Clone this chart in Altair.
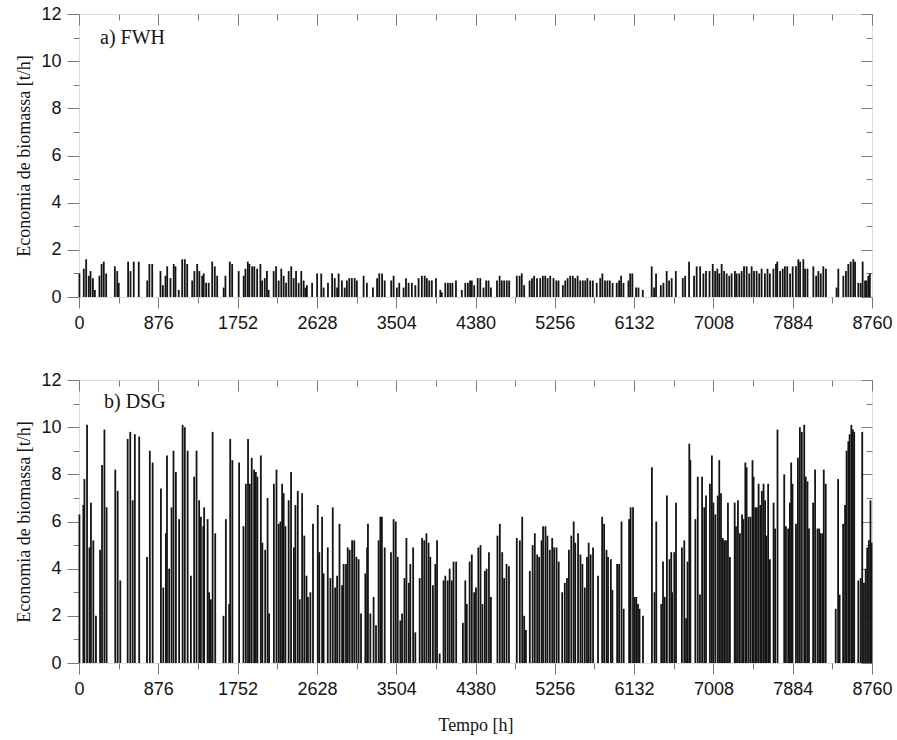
import altair as alt
import pandas as pd

# ---- axis ticks (hours / t/h) ----
x_major = [0, 876, 1752, 2628, 3504, 4380, 5256, 6132, 7008, 7884, 8760]
x_minor = [438, 1314, 2190, 3066, 3942, 4818, 5694, 6570, 7446, 8322]
y_major = [0, 2, 4, 6, 8, 10, 12]
y_minor = [1, 3, 5, 7, 9, 11]

# ---- daily peaks: (day of year, t/h) ----
fwh_picos = [
    (0.2, 1.0), (2.2, 1.2), (3.3, 1.6), (4.5, 0.9), (5.3, 1.1), (6.4, 0.8), (7.3, 0.3),
    (9.4, 0.9), (10.4, 1.4), (11.4, 1.5), (12.5, 1.0),
    (16.5, 1.3), (17.6, 1.1), (18.3, 0.6),
    (22.6, 1.5), (23.7, 1.1), (25.2, 1.5), (27.5, 1.5),
    (31.4, 0.7), (32.4, 1.4), (33.7, 1.4),
    (37.5, 1.1), (38.6, 0.5), (39.8, 0.9), (40.6, 1.3), (42.1, 0.8), (43.6, 1.4), (44.4, 1.3),
    (45.9, 0.3), (47.5, 1.6), (48.7, 1.6), (49.8, 1.4),
    (52.1, 0.7), (53.1, 1.1), (54.4, 1.4), (55.4, 1.1), (56.7, 0.9), (57.4, 1.0), (58.5, 0.6),
    (59.7, 0.6), (61.3, 1.5), (62.5, 1.3), (63.6, 0.9),
    (66.6, 0.4), (67.4, 0.9), (69.4, 1.5), (70.5, 1.4), (73.5, 1.1),
    (75.8, 0.9), (76.6, 1.2), (77.7, 1.5), (78.4, 1.4), (79.7, 1.3), (80.7, 1.3), (82.0, 1.2),
    (83.5, 1.4), (84.3, 0.7), (85.5, 0.8), (86.5, 1.1), (87.3, 0.3),
    (89.6, 1.1), (90.7, 1.3), (91.9, 0.7), (93.1, 1.2), (94.2, 0.9), (95.3, 0.6),
    (96.5, 1.1), (97.7, 1.3), (98.8, 0.8), (99.9, 1.1), (101.1, 0.6), (102.3, 1.1), (103.4, 0.7),
    (104.2, 0.4), (104.9, 0.5), (107.3, 0.6),
    (109.6, 1.0), (111.5, 1.0), (112.6, 0.4),
    (114.6, 0.6), (116.5, 1.0), (117.7, 0.8), (118.8, 0.4), (119.5, 1.0), (121.0, 0.7),
    (122.3, 0.4), (123.3, 0.7), (124.4, 0.8), (125.6, 0.8), (126.9, 0.8), (127.9, 0.7),
    (131.0, 0.9), (132.5, 0.6),
    (135.3, 0.4), (137.2, 0.8), (138.2, 1.0), (139.5, 1.0), (140.7, 0.7),
    (143.7, 0.7), (144.8, 0.9), (146.3, 0.4), (147.4, 0.6),
    (149.4, 0.4), (150.5, 0.8), (151.7, 0.6), (153.2, 0.6), (154.8, 0.5),
    (156.3, 0.8), (157.8, 0.9), (159.1, 0.9), (160.1, 0.8), (161.2, 0.7), (162.4, 0.7), (164.3, 0.8),
    (166.3, 0.3), (167.0, 0.2), (168.6, 0.6), (169.8, 0.6), (170.9, 0.6), (171.9, 0.6), (173.5, 0.7),
    (176.2, 0.3), (177.8, 0.6), (179.0, 0.6), (180.0, 0.7),
    (180.8, 0.7), (181.9, 0.5), (183.5, 0.8), (184.7, 0.8), (186.2, 0.4), (187.4, 0.7),
    (188.5, 0.7), (189.6, 0.4),
    (192.4, 0.7), (193.6, 0.9), (194.6, 0.7), (195.7, 0.7), (196.9, 0.7), (198.0, 0.7),
    (201.5, 0.9), (202.8, 0.9), (203.8, 1.0), (204.9, 0.5),
    (207.4, 0.7), (208.5, 0.8), (209.5, 0.9), (210.8, 0.8), (212.3, 0.8), (213.5, 0.9),
    (214.6, 0.9), (215.7, 0.8), (216.9, 0.9), (218.4, 0.8), (219.7, 0.7), (220.7, 0.7),
    (222.7, 0.5), (223.8, 0.7), (224.9, 0.8), (226.1, 0.9), (227.3, 0.9), (228.4, 0.8),
    (229.5, 0.9), (230.7, 0.7), (231.9, 0.7), (233.0, 0.7), (234.0, 0.8), (235.3, 0.7), (236.5, 0.7),
    (238.3, 0.6), (239.9, 0.8), (240.9, 1.0), (242.1, 0.7), (243.2, 0.7), (244.3, 0.7), (245.6, 0.6),
    (247.5, 0.6), (248.6, 0.7), (249.5, 0.9), (250.6, 0.6),
    (252.9, 0.7), (253.7, 1.0), (254.7, 1.0),
    (256.4, 0.4), (257.5, 0.4), (259.5, 0.3),
    (263.6, 1.3), (264.7, 0.4), (265.6, 1.0),
    (267.8, 0.5), (269.0, 0.6), (270.5, 1.1), (271.6, 0.7), (272.8, 0.8), (274.7, 1.1),
    (277.9, 0.8), (279.0, 0.9), (280.8, 1.5),
    (283.1, 0.9), (284.3, 1.3), (285.9, 1.3), (287.4, 1.0), (288.6, 1.1), (290.2, 1.1),
    (291.7, 1.4), (292.8, 1.1), (293.8, 1.2), (294.7, 1.0), (295.8, 1.4), (296.9, 1.1),
    (298.1, 1.0), (299.3, 0.9), (300.4, 1.0),
    (301.9, 1.1), (302.7, 1.0), (303.9, 1.0), (305.0, 1.1), (306.1, 1.3), (307.3, 1.3),
    (308.5, 1.0), (309.6, 1.3), (310.7, 1.1), (311.9, 1.1), (313.1, 1.0), (314.2, 1.2),
    (315.7, 1.0), (316.9, 1.2), (318.0, 1.0),
    (319.6, 1.2), (320.8, 1.4), (321.4, 1.5), (322.7, 1.1), (323.9, 1.2), (324.9, 1.3),
    (326.0, 1.3), (327.3, 1.0),
    (328.5, 1.3), (330.0, 1.3), (331.1, 1.6), (331.9, 1.5), (333.4, 1.6), (334.2, 1.2), (335.3, 1.2),
    (338.0, 1.3), (339.3, 0.9), (340.3, 1.1), (341.4, 1.0), (342.6, 1.3), (343.8, 1.2),
    (348.7, 0.4), (349.5, 1.2),
    (351.8, 0.9), (353.0, 1.1), (354.1, 1.4), (355.2, 1.5), (356.4, 1.6), (357.2, 1.5),
    (358.7, 0.6), (359.8, 0.6), (360.7, 1.5), (361.8, 0.7), (362.5, 0.7), (363.3, 0.9), (364.0, 1.0),
]

dsg_picos = [
    (0.2, 6.3), (2.0, 6.7), (2.5, 7.8), (3.7, 10.1), (4.8, 4.9), (5.5, 6.8), (6.6, 5.2), (7.8, 2.0),
    (9.7, 4.8), (10.6, 8.4), (11.7, 9.9), (12.7, 6.6),
    (16.7, 8.2), (17.8, 7.3), (19.0, 3.5),
    (22.4, 9.5), (23.6, 9.8), (24.7, 6.9), (25.7, 9.7), (27.7, 9.6),
    (31.3, 4.5), (32.6, 9.0), (33.9, 8.5),
    (37.7, 7.4), (38.8, 3.2), (40.0, 5.5), (40.5, 8.8), (41.5, 4.0), (42.6, 6.6), (43.5, 9.0), (44.6, 8.1),
    (46.1, 6.1), (47.7, 10.1), (48.7, 10.0), (50.0, 9.0),
    (51.5, 3.7), (53.0, 7.9), (54.1, 9.0), (55.3, 6.9), (56.1, 6.2), (57.2, 5.8), (57.6, 6.6),
    (59.2, 6.1), (59.9, 3.0), (60.7, 2.7), (61.5, 9.8), (62.7, 5.5),
    (66.5, 2.0), (67.6, 6.1), (69.1, 2.5), (69.6, 9.5), (70.6, 8.6), (73.7, 8.5),
    (75.7, 5.8), (76.8, 7.6), (77.8, 9.5), (78.6, 7.6), (79.5, 8.7), (80.6, 8.2), (81.4, 8.1),
    (82.1, 7.9), (83.7, 8.8), (84.4, 5.1), (85.7, 4.8), (86.8, 7.0), (87.5, 2.1),
    (89.7, 7.6), (90.9, 8.2), (91.9, 5.9), (92.7, 6.0), (93.5, 7.6), (94.2, 7.2), (95.0, 5.8),
    (96.5, 6.9), (97.6, 8.1), (98.9, 4.9), (99.6, 6.7), (100.7, 7.3), (101.6, 2.7), (102.7, 7.2),
    (103.7, 5.4), (104.7, 3.7), (105.4, 2.8), (106.5, 3.0), (107.7, 5.9),
    (109.9, 6.7), (110.6, 4.7), (111.9, 6.2), (112.6, 3.8),
    (114.5, 4.9), (115.7, 3.6), (116.8, 6.6), (117.9, 3.2), (118.8, 3.7), (119.9, 5.9),
    (121.1, 3.3), (121.8, 4.2), (122.9, 4.2),
    (123.7, 4.9), (124.6, 4.8), (125.7, 5.2), (126.7, 5.2), (127.7, 4.5), (128.7, 4.4), (129.8, 2.1),
    (131.8, 3.8), (132.6, 4.9), (133.0, 5.9), (134.1, 2.1),
    (135.6, 2.8), (136.7, 1.6), (137.9, 5.2), (138.7, 6.2), (139.4, 6.2), (140.7, 4.9),
    (143.6, 4.7), (144.8, 6.1), (145.8, 6.0), (146.7, 4.5), (147.9, 1.8), (148.7, 2.1),
    (149.8, 3.6), (150.7, 5.3), (151.8, 3.4), (152.5, 4.2), (153.8, 4.9), (154.8, 1.3),
    (156.8, 3.6), (157.9, 5.3), (158.9, 5.2), (159.9, 5.5), (160.9, 5.1), (161.7, 4.5),
    (162.9, 3.3), (164.0, 4.2), (164.8, 5.2), (166.0, 0.4),
    (167.8, 3.5), (168.6, 3.7), (169.7, 3.5), (170.6, 4.0), (171.6, 3.5), (172.4, 4.3), (173.6, 4.3),
    (176.7, 1.7), (177.8, 3.5), (178.5, 2.5), (179.8, 4.3),
    (180.8, 4.6), (181.9, 3.0), (182.7, 3.2), (183.8, 4.9), (184.8, 5.0), (185.7, 2.5),
    (186.8, 3.9), (187.6, 4.0), (188.7, 4.7), (189.6, 2.8),
    (192.6, 5.4), (193.7, 5.9), (194.8, 4.7), (195.7, 3.6), (196.8, 4.2), (197.9, 4.1),
    (201.5, 5.3), (202.9, 5.2), (204.0, 6.2), (204.9, 2.0), (205.7, 1.4),
    (207.5, 3.9), (208.8, 5.0), (209.8, 5.5), (210.9, 4.6), (211.8, 4.5), (212.9, 5.2),
    (213.6, 5.8), (214.7, 5.8), (215.6, 5.4), (216.7, 4.8), (217.8, 5.3), (218.7, 4.9),
    (219.8, 4.9), (220.8, 4.3),
    (222.4, 3.0), (223.6, 3.4), (224.6, 3.6), (225.5, 4.8), (226.6, 5.4), (227.7, 6.0),
    (228.4, 5.1), (229.7, 5.5), (230.8, 4.6), (231.7, 4.2), (232.8, 3.2), (233.8, 4.5),
    (234.6, 5.1), (235.5, 4.6), (236.6, 4.9),
    (238.9, 3.7), (240.8, 6.2), (241.7, 5.9), (242.8, 4.8), (243.5, 4.5), (244.8, 4.4), (245.5, 3.1),
    (247.7, 4.2), (248.6, 4.2), (249.7, 6.0), (250.7, 2.3),
    (253.2, 6.1), (253.9, 6.6), (255.0, 6.6), (255.8, 2.8),
    (256.5, 2.8), (257.3, 2.5), (258.0, 2.3), (259.6, 2.0),
    (263.7, 8.3), (264.9, 3.0), (265.7, 6.0),
    (268.0, 2.5), (268.8, 4.3), (269.6, 2.8), (270.6, 7.1), (271.8, 4.4), (272.6, 4.7),
    (273.0, 3.0), (274.0, 4.7), (274.8, 6.8),
    (277.5, 4.9), (278.6, 5.2), (279.4, 1.9), (280.1, 4.3), (280.9, 9.3), (281.4, 8.6),
    (283.7, 6.1), (284.8, 7.9), (285.8, 2.9), (286.8, 7.9), (287.8, 6.6), (288.6, 7.1),
    (290.4, 7.6), (291.3, 8.8), (292.0, 6.8), (292.9, 6.3), (294.0, 7.1), (294.7, 8.6),
    (295.5, 7.2), (296.3, 5.3), (297.0, 5.2), (297.8, 5.2), (298.7, 6.8), (299.6, 4.5),
    (301.8, 6.8), (302.4, 5.8), (303.3, 6.9), (304.2, 5.5), (305.2, 6.3), (305.8, 6.1),
    (306.7, 8.5), (307.3, 8.3), (308.2, 6.2), (309.1, 6.2), (310.0, 8.6), (310.5, 7.9),
    (311.3, 6.6), (312.0, 6.6), (312.8, 7.6), (313.6, 6.7), (314.3, 7.3), (315.1, 7.6),
    (315.8, 6.9), (316.4, 5.4), (317.2, 7.6), (318.0, 4.4),
    (319.7, 6.8), (320.4, 5.7), (321.5, 9.9),
    (324.6, 8.0), (325.4, 5.8), (326.4, 5.7), (327.2, 6.8), (327.8, 8.5), (328.4, 7.6),
    (330.0, 5.9), (330.9, 8.7), (331.8, 10.0), (332.7, 9.8), (333.8, 10.1), (334.5, 7.9),
    (335.3, 7.7), (336.0, 5.7),
    (337.9, 6.8), (338.8, 8.2), (339.9, 5.7), (340.7, 5.7), (341.4, 5.5), (342.2, 5.5),
    (342.8, 8.2), (343.7, 7.6),
    (348.3, 2.3), (349.4, 7.8), (350.1, 2.9),
    (351.7, 5.9), (352.6, 6.7), (353.3, 9.0), (354.1, 9.4), (354.7, 9.7), (355.5, 10.1),
    (356.2, 9.9), (356.8, 9.8),
    (358.7, 3.5), (359.8, 3.6), (360.5, 9.8), (361.3, 3.4), (362.1, 4.0), (362.8, 4.9),
    (363.6, 5.2), (364.3, 6.9), (364.8, 5.1),
]

painel_rotulos = ["a) FWH", "b) DSG"]
rotulo_hora = [232, 276]
rotulo_valor = [11.0, 11.05]

GRAY = "#7a7a7a"
INK = "#141414"
SANS = "Liberation Sans"
SERIF = "Liberation Serif"

xs = alt.Scale(domain=[0, 8760], nice=False, zero=False)
ys = alt.Scale(domain=[0, 12], nice=False)

x_ticks = x_major + x_minor
y_ticks = y_major + y_minor
x_is_major = "datum.value % 876 === 0"
y_is_major = "datum.value % 2 === 0"


def panel(picos, rotulo, rx, ry, show_xtitle):
    df = pd.DataFrame({
        "t": [d * 24 for d, v in picos],
        "v": [v for d, v in picos],
        "b": [0.0 for _ in picos],
    })
    x_bottom = alt.Axis(
        orient="bottom", values=x_ticks, format="d",
        labelExpr=f"{x_is_major} ? datum.label : ''",
        tickSize={"condition": {"test": x_is_major, "value": 11}, "value": 6},
        tickColor=GRAY, domain=False, grid=False,
        labelFont=SANS, labelFontSize=18, labelColor=INK, labelPadding=6,
        labelFlush=False,
        title="Tempo [h]" if show_xtitle else None,
        titleFont=SERIF, titleFontSize=18, titleFontWeight="normal",
        titleColor=INK, titlePadding=18,
    )
    y_left = alt.Axis(
        orient="left", values=y_ticks,
        labelExpr=f"{y_is_major} ? datum.label : ''",
        tickSize={"condition": {"test": y_is_major, "value": 12}, "value": 6},
        tickColor=GRAY, domain=False, grid=False,
        labelFont=SANS, labelFontSize=18, labelColor=INK, labelPadding=6,
        labelFlush=False,
        title="Economia de biomassa [t/h]",
        titleFont=SERIF, titleFontSize=18, titleFontWeight="normal",
        titleColor=INK, titlePadding=7,
    )
    x_top = alt.Axis(
        orient="top", values=x_ticks, labels=False, domain=False, grid=False,
        tickSize={"condition": {"test": x_is_major, "value": -11}, "value": -6},
        tickColor=GRAY, title=None,
    )
    y_right = alt.Axis(
        orient="right", values=y_ticks, labels=False, domain=False, grid=False,
        tickSize={"condition": {"test": y_is_major, "value": -11}, "value": -6},
        tickColor=GRAY, title=None,
    )
    spikes = alt.Chart(df).mark_rule(color=INK, strokeWidth=1.8).encode(
        x=alt.X("t:Q", scale=xs, axis=x_bottom),
        y=alt.Y("v:Q", scale=ys, axis=y_left),
        y2="b:Q",
    )
    mirror = alt.Chart(df).mark_rule(opacity=0).encode(
        x=alt.X("t:Q", scale=xs, axis=x_top),
        y=alt.Y("v:Q", scale=ys, axis=y_right),
    )
    lab_df = pd.DataFrame({"t": [rx], "v": [ry], "s": [rotulo]})
    label = alt.Chart(lab_df).mark_text(
        align="left", baseline="middle", font=SERIF, fontSize=20, color=INK
    ).encode(
        x=alt.X("t:Q", scale=xs, axis=None),
        y=alt.Y("v:Q", scale=ys, axis=None),
        text="s:N",
    )
    return alt.layer(spikes, mirror, label).resolve_axis(
        x="independent", y="independent"
    ).properties(width=793, height=283)


top = panel(fwh_picos, painel_rotulos[0], rotulo_hora[0], rotulo_valor[0], False)
bottom = panel(dsg_picos, painel_rotulos[1], rotulo_hora[1], rotulo_valor[1], True)

chart = alt.vconcat(top, bottom, spacing=83, bounds="flush").properties(
    padding={"left": 15, "top": 4, "right": 2, "bottom": 2}
).configure_view(stroke=GRAY, strokeWidth=1).configure(background="white")

chart.save("out.html", embed_options={"renderer": "svg", "actions": False})
